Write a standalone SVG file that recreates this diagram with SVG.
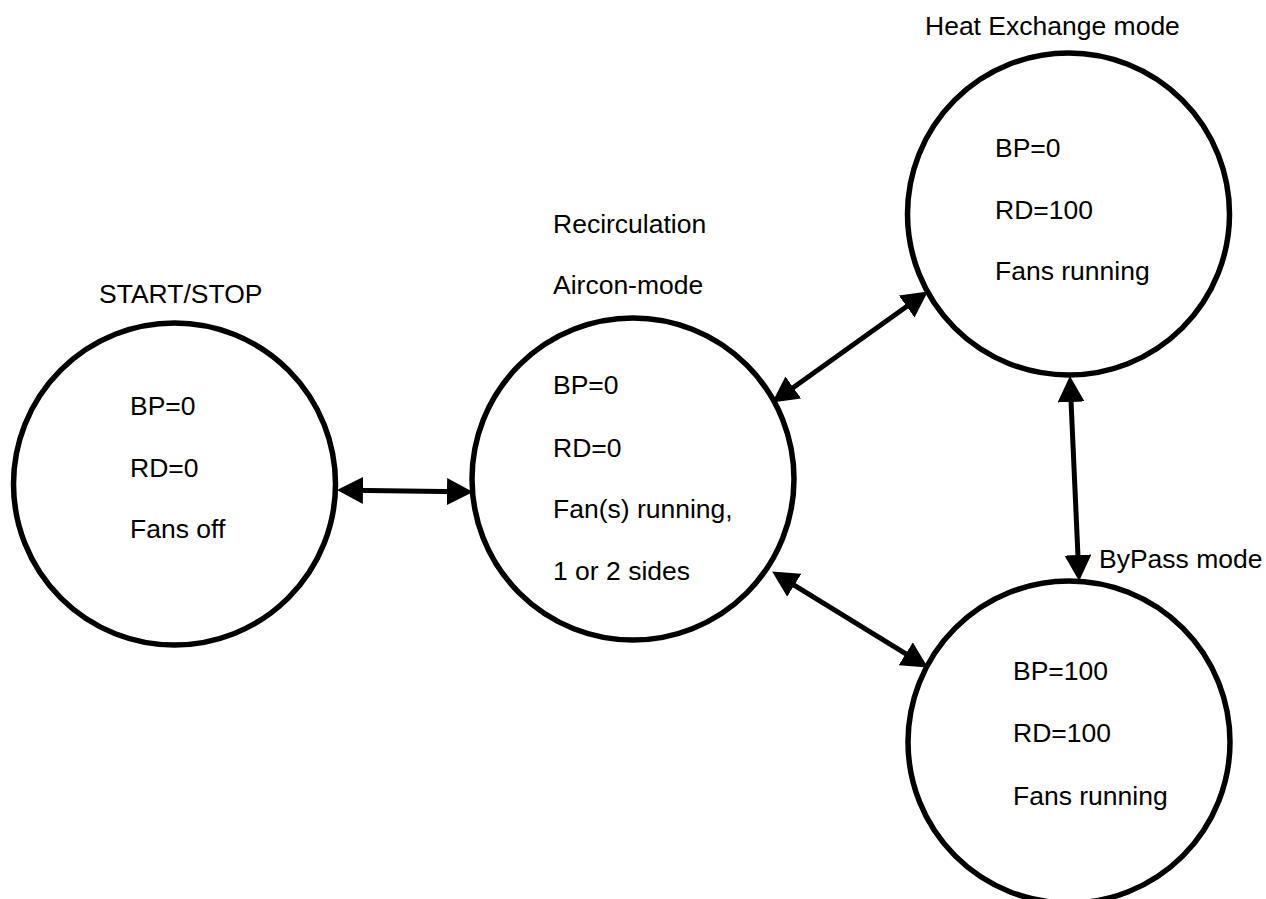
<svg xmlns="http://www.w3.org/2000/svg" width="1266" height="899" viewBox="0 0 1266 899">
<style>
.node{fill:#fff;stroke:#000;stroke-width:5.5}
.t{font-family:"Liberation Sans",Arial,sans-serif;font-size:26.5px;fill:#000}
.conn{stroke:#000;stroke-width:5;fill:none;marker-start:url(#ah);marker-end:url(#ah)}
</style>
<defs>
<marker id="ah" markerUnits="userSpaceOnUse" markerWidth="27" markerHeight="27" refX="15" refY="13.5" orient="auto-start-reverse" viewBox="0 0 27 27">
<path d="M0,0 L26,13.5 L0,27 z" fill="#000"/>
</marker>
</defs>
<rect width="1266" height="899" fill="#fff"/>
<g id="start-stop">
<circle class="node" cx="174.5" cy="484" r="161"/>
<text class="t" x="99" y="303">START/STOP</text>
<text class="t" x="130" y="415">BP=0</text>
<text class="t" x="130" y="477">RD=0</text>
<text class="t" x="130" y="538">Fans off</text>
</g>
<g id="recirculation">
<circle class="node" cx="633" cy="479" r="161"/>
<text class="t" x="553" y="233">Recirculation</text>
<text class="t" x="553" y="294">Aircon-mode</text>
<text class="t" x="553" y="394">BP=0</text>
<text class="t" x="553" y="457">RD=0</text>
<text class="t" x="553" y="518">Fan(s) running,</text>
<text class="t" x="553" y="580">1 or 2 sides</text>
</g>
<g id="heat-exchange">
<circle class="node" cx="1068.5" cy="214" r="161"/>
<text class="t" x="925" y="35">Heat Exchange mode</text>
<text class="t" x="995" y="157">BP=0</text>
<text class="t" x="995" y="219">RD=100</text>
<text class="t" x="995" y="280">Fans running</text>
</g>
<g id="bypass">
<circle class="node" cx="1069" cy="742" r="161"/>
<text class="t" x="1099" y="568">ByPass mode</text>
<text class="t" x="1013" y="680">BP=100</text>
<text class="t" x="1013" y="742">RD=100</text>
<text class="t" x="1013" y="805">Fans running</text>
</g>
<g id="connectors">
<line class="conn" x1="348" y1="490.2" x2="462" y2="491.8"/>
<line class="conn" x1="781.1" y1="396.2" x2="918.9" y2="297.8"/>
<line class="conn" x1="781.5" y1="577.3" x2="918.5" y2="661.7"/>
<line class="conn" x1="1070.4" y1="387" x2="1078.6" y2="570"/>
</g>
</svg>
